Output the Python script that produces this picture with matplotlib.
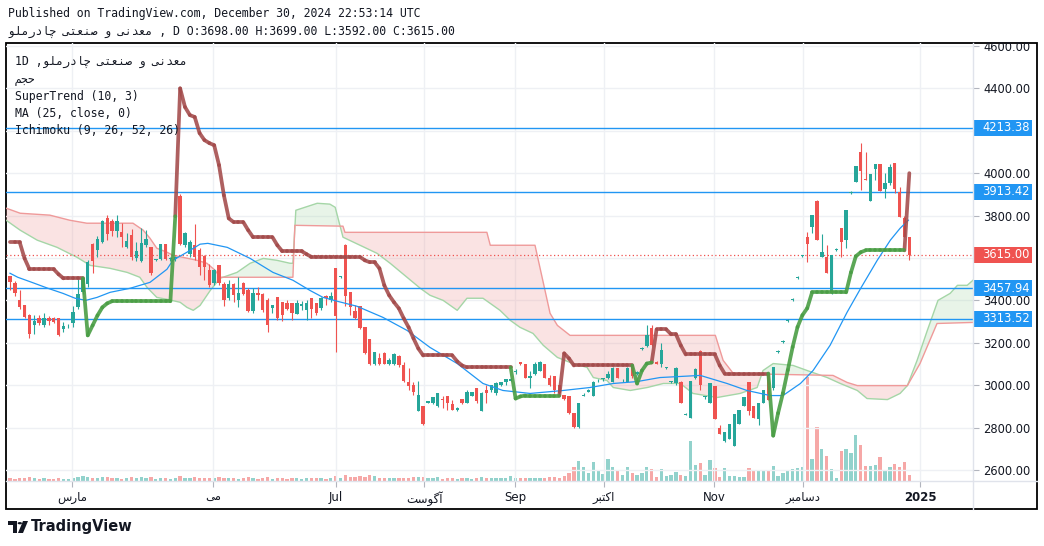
import numpy as np
import matplotlib
matplotlib.use("Agg")
import matplotlib.pyplot as plt
from matplotlib.collections import LineCollection
from matplotlib.patches import Rectangle, Circle, Polygon
from matplotlib.lines import Line2D
from matplotlib import transforms

# daily bars (Feb .. Dec 30 2024)
opens = [3513, 3480, 3400, 3376, 3329, 3282, 3315, 3282, 3315, 3315,
         3315, 3263, 3282, 3291, 3367, 3438, 3476, 3665, 3636, 3674,
         3787, 3773, 3726, 3721, 3650, 3707, 3599, 3585, 3660, 3650,
         3590, 3594, 3665, 3594, 3594, 3891, 3660, 3617, 3660, 3636,
         3608, 3542, 3480, 3566, 3476, 3410, 3476, 3400, 3480, 3447,
         3348, 3433, 3428, 3400, 3362, 3414, 3391, 3386, 3386, 3334,
         3372, 3353, 3410, 3386, 3362, 3419, 3400, 3551, 3509, 3660,
         3438, 3348, 3372, 3273, 3216, 3098, 3126, 3150, 3098, 3098,
         3136, 3093, 3013, 2999, 2880, 2904, 2918, 2914, 2900, 2937,
         2947, 2909, 2885, 2937, 2914, 2951, 2989, 2880, 2975, 2975,
         2961, 3003, 3013, 3022, 3060, 3107, 3102, 3032, 3055, 3069,
         3102, 3036, 3041, 2999, 2956, 2947, 2871, 2805, 2951, 2970,
         2951, 3018, 3027, 3032, 3013, 3079, 3018, 3013, 3093, 3055,
         3169, 3183, 3268, 3107, 3102, 3079, 3013, 3008, 3013, 2861,
         2847, 3032, 3159, 2942, 2918, 2994, 2800, 2739, 2748, 2715,
         2819, 2904, 3013, 2904, 2842, 2918, 3055, 2989, 3155, 3202,
         3301, 3400, 3504, 3608, 3698, 3745, 3868, 3603, 3603, 3433,
         3636, 3740, 3684, 3906, 3958, 4099, 3972, 3868, 4019, 4043,
         3925, 3953, 4047, 3910, 3788, 3698]
highs = [3515, 3490, 3447, 3380, 3335, 3329, 3329, 3339, 3325, 3320,
         3318, 3296, 3290, 3372, 3499, 3508, 3590, 3670, 3702, 3778,
         3802, 3783, 3802, 3764, 3717, 3735, 3674, 3740, 3731, 3650,
         3597, 3665, 3665, 3603, 3610, 3901, 3721, 3684, 3759, 3646,
         3613, 3570, 3547, 3566, 3485, 3495, 3480, 3509, 3485, 3457,
         3457, 3462, 3433, 3410, 3376, 3414, 3391, 3400, 3386, 3400,
         3396, 3400, 3410, 3386, 3414, 3424, 3438, 3551, 3513, 3665,
         3438, 3377, 3372, 3273, 3216, 3155, 3150, 3155, 3126, 3150,
         3140, 3107, 3079, 3013, 3018, 2904, 2925, 2942, 2961, 2947,
         2951, 2928, 2895, 2937, 2975, 2970, 2989, 2966, 2999, 3003,
         3013, 3013, 3027, 3032, 3074, 3107, 3102, 3065, 3107, 3112,
         3102, 3046, 3041, 2999, 2956, 2947, 2871, 2914, 2961, 2980,
         3022, 3027, 3036, 3065, 3088, 3083, 3027, 3088, 3093, 3065,
         3178, 3282, 3282, 3112, 3197, 3088, 3022, 3084, 3018, 2871,
         3022, 3079, 3164, 2951, 3008, 2994, 2814, 2777, 2819, 2862,
         2885, 2942, 3013, 2904, 2918, 2975, 3055, 3084, 3164, 3211,
         3310, 3410, 3513, 3613, 3721, 3802, 3873, 3712, 3660, 3613,
         3646, 3740, 3825, 3915, 4033, 4142, 4099, 3995, 4043, 4043,
         4000, 4043, 4047, 3934, 3797, 3699]
lows = [3447, 3420, 3358, 3315, 3221, 3240, 3282, 3273, 3282, 3292,
        3230, 3249, 3270, 3273, 3358, 3428, 3462, 3528, 3603, 3670,
        3684, 3702, 3698, 3650, 3646, 3589, 3585, 3580, 3650, 3518,
        3585, 3589, 3589, 3585, 3585, 3660, 3650, 3603, 3590, 3518,
        3495, 3462, 3471, 3471, 3372, 3400, 3390, 3367, 3424, 3343,
        3339, 3400, 3343, 3249, 3339, 3306, 3301, 3353, 3306, 3334,
        3353, 3306, 3315, 3329, 3353, 3376, 3391, 3155, 3504, 3372,
        3329, 3310, 3263, 3145, 3097, 3093, 3093, 3098, 3093, 3093,
        3088, 3013, 2975, 2956, 2876, 2810, 2914, 2910, 2895, 2890,
        2885, 2885, 2880, 2909, 2914, 2951, 2918, 2876, 2914, 2970,
        2956, 2994, 3003, 3018, 3055, 3093, 3032, 2985, 3050, 3065,
        3032, 2994, 2961, 2956, 2928, 2866, 2800, 2800, 2947, 2966,
        2947, 3013, 3022, 3027, 3013, 3032, 3013, 3013, 3036, 3050,
        3164, 3178, 3183, 3098, 3084, 3074, 3008, 3003, 2914, 2857,
        2847, 3027, 2975, 2937, 2918, 2842, 2772, 2734, 2748, 2715,
        2819, 2900, 2857, 2847, 2810, 2918, 2928, 2975, 3150, 3197,
        3296, 3396, 3499, 3603, 3580, 3717, 3684, 3603, 3528, 3428,
        3632, 3603, 3646, 3901, 3958, 3920, 3967, 3868, 3967, 3915,
        3882, 3943, 3906, 3792, 3698, 3592]
closes = [3485, 3433, 3367, 3320, 3240, 3301, 3292, 3315, 3301, 3296,
          3235, 3277, 3286, 3343, 3428, 3504, 3580, 3585, 3688, 3773,
          3712, 3726, 3773, 3698, 3679, 3604, 3632, 3670, 3688, 3528,
          3594, 3665, 3594, 3599, 3603, 3665, 3717, 3674, 3603, 3556,
          3556, 3471, 3542, 3480, 3400, 3476, 3424, 3433, 3428, 3348,
          3433, 3424, 3353, 3282, 3376, 3315, 3329, 3358, 3339, 3386,
          3381, 3386, 3358, 3339, 3410, 3410, 3419, 3325, 3513, 3419,
          3367, 3315, 3268, 3150, 3102, 3155, 3102, 3102, 3121, 3145,
          3093, 3022, 2994, 2970, 2956, 2819, 2923, 2942, 2961, 2928,
          2918, 2885, 2890, 2914, 2970, 2966, 2923, 2961, 2961, 3003,
          3008, 3013, 3027, 3027, 3069, 3098, 3036, 3041, 3102, 3107,
          3036, 2999, 2975, 2961, 2933, 2871, 2805, 2914, 2956, 2975,
          3013, 3022, 3032, 3055, 3079, 3036, 3022, 3083, 3041, 3060,
          3174, 3235, 3188, 3102, 3164, 3084, 3018, 3079, 2914, 2866,
          3022, 3074, 2999, 2947, 3008, 2842, 2772, 2777, 2819, 2862,
          2885, 2942, 2880, 2847, 2918, 2975, 2928, 3084, 3159, 3207,
          3306, 3405, 3509, 3612, 3665, 3802, 3684, 3627, 3528, 3613,
          3641, 3674, 3825, 3910, 4033, 4010, 3967, 3995, 4043, 3915,
          3953, 4028, 3925, 3792, 3698, 3615]
volumes = [3, 2, 3, 3, 4, 3, 2, 3, 2, 2, 3, 2, 2, 3, 4, 5, 4, 3, 3, 4,
           4, 3, 3, 2, 3, 4, 3, 4, 3, 4, 2, 3, 3, 2, 3, 5, 3, 3, 4, 3,
           3, 3, 3, 4, 3, 3, 3, 2, 3, 4, 3, 2, 3, 4, 2, 3, 3, 2, 3, 3,
           2, 3, 3, 3, 3, 2, 3, 5, 3, 6, 4, 4, 5, 4, 6, 5, 3, 3, 3, 3,
           3, 3, 3, 4, 4, 4, 3, 3, 4, 2, 3, 3, 2, 3, 3, 2, 3, 4, 3, 3,
           3, 3, 3, 5, 3, 3, 3, 3, 3, 3, 3, 4, 4, 3, 5, 8, 14, 20, 14, 8,
           19, 10, 7, 22, 14, 10, 6, 14, 8, 6, 8, 14, 12, 4, 12, 5, 6, 9, 6, 5,
           40, 16, 18, 6, 21, 13, 4, 13, 5, 5, 4, 4, 13, 10, 10, 11, 11, 15, 5, 8,
           11, 12, 13, 14, 104, 22, 54, 32, 25, 12, 3, 30, 32, 28, 46, 36, 15, 15, 16, 24,
           11, 14, 17, 14, 19, 6]

# SuperTrend (10, 3) per bar, and the bar ranges where it is in uptrend
supertrend = [3674, 3674, 3674, 3598, 3547, 3547, 3547, 3547, 3547, 3547,
              3523, 3504, 3504, 3504, 3504, 3504, 3235, 3282, 3329, 3367,
              3386, 3396, 3396, 3396, 3396, 3396, 3396, 3396, 3396, 3396,
              3396, 3396, 3396, 3396, 3797, 4400, 4312, 4274, 4265, 4189,
              4156, 4142, 4132, 4038, 3896, 3787, 3769, 3769, 3769, 3731,
              3698, 3698, 3698, 3698, 3698, 3660, 3632, 3632, 3632, 3632,
              3632, 3618, 3605, 3605, 3605, 3605, 3605, 3605, 3605, 3605,
              3605, 3605, 3605, 3589, 3580, 3580, 3551, 3471, 3424, 3391,
              3362, 3315, 3273, 3221, 3173, 3140, 3140, 3140, 3140, 3140,
              3140, 3140, 3112, 3093, 3084, 3084, 3084, 3084, 3084, 3084,
              3084, 3084, 3084, 3084, 2937, 2947, 2951, 2951, 2951, 2951,
              2951, 2951, 2951, 2951, 3150, 3126, 3093, 3093, 3093, 3093,
              3093, 3093, 3093, 3093, 3093, 3093, 3093, 3093, 3093, 3008,
              3069, 3102, 3107, 3263, 3263, 3263, 3240, 3240, 3187, 3145,
              3145, 3145, 3145, 3145, 3145, 3145, 3093, 3055, 3055, 3055,
              3055, 3055, 3055, 3055, 3055, 3055, 3055, 2762, 2868, 2962,
              3071, 3180, 3274, 3330, 3363, 3438, 3438, 3438, 3438, 3438,
              3438, 3438, 3438, 3532, 3608, 3627, 3636, 3636, 3636, 3636,
              3636, 3636, 3636, 3636, 3636, 4000]
uptrend_runs = [(16, 34), (104, 113), (129, 132), (157, 184)]

# MA (25, close) traced as (bar, value)
ma_bar = [0, 1.6, 4.5, 7.8, 10.9, 13.4, 15.6, 17.9, 20.6, 24.7, 28.8, 32.3, 33.5,
          36.4, 39.1, 40.7, 44.7, 49.4, 54.1, 58.2, 61.7, 64.4, 67.3, 71.4, 76.7,
          81.7, 86.4, 92, 97.3, 101.4, 107, 113.8, 119.3, 124.1, 129, 133.7, 142,
          147.5, 151.6, 156.4, 159, 162.6, 165.2, 168.7, 172.2, 175, 178.4, 181.1,
          183.1, 184.8]
ma_val = [3528, 3509, 3485, 3457, 3433, 3410, 3400, 3414, 3438, 3457, 3485, 3547, 3589,
          3627, 3665, 3669, 3650, 3598, 3532, 3495, 3447, 3414, 3396, 3372, 3320,
          3258, 3178, 3102, 3008, 2975, 2961, 2975, 2989, 3008, 3017, 3036, 3046,
          3008, 2975, 2951, 2951, 3008, 3069, 3188, 3344, 3457, 3589, 3684,
          3740, 3778]

# Ichimoku cloud spans (shifted 26 bars ahead)
spanA_bar = [-0.8, 2.1, 5.6, 9.7, 13.8, 16.5, 20.6, 24.1, 26.7, 28.2, 30.2, 32.3, 35.0,
             36.4, 37.7, 39.1, 41.2, 43.2, 46.7, 49.4, 52.1, 54.9, 57.6, 58.2, 58.8,
             63.2, 65.8, 66.9, 68.5, 75.5, 78.2, 84.4, 86.4, 89.1, 92.0, 94.0, 97.3,
             100.8, 102.9, 104.9, 107.6, 109.7, 112.6, 115.8, 118.7, 120.0, 122.8,
             124.1, 127.6, 131.1, 134.4, 137.9, 140.5, 145.5, 150.2, 153.7, 154.9,
             157.0, 161.1, 164.0, 168.1, 170.8, 174.3, 176.3, 180.5, 183.1, 184.6,
             186.6, 188.7, 190.9, 193.4, 194.9, 196.9, 198.1]
spanA_val = [3778, 3731, 3684, 3650, 3603, 3565, 3551, 3532, 3509, 3461, 3414, 3405, 3391,
             3367, 3353, 3376, 3447, 3504, 3532, 3575, 3598, 3589, 3575, 3575, 3825,
             3858, 3854, 3839, 3698, 3622, 3575, 3457, 3424, 3400, 3353, 3410, 3410,
             3353, 3306, 3273, 3244, 3188, 3131, 3102, 3084, 3036, 3022,
             2989, 2975, 2989, 3008, 3008, 2961, 2942, 2961, 2989, 3069,
             3102, 3093, 3069, 3036, 3008, 2975, 2937, 2932, 2961, 2998,
             3117, 3258, 3400, 3433, 3471, 3471, 3495]
spanB_bar = [-0.8, 2.1, 8.2, 12.3, 15.8, 25.3, 27.4, 28.8, 30.2, 32.3, 33.5, 38.5,
             40.5, 42.2, 43.2, 58.2, 58.6, 68.5, 68.9, 98.1, 98.8, 108.0, 111.1,
             112.6, 115.2, 145.1, 146.7, 148.8, 169.3, 172.2, 174.3, 184.6, 187.2,
             190.7, 198.1]
spanB_val = [3835, 3811, 3802, 3778, 3764, 3764, 3731, 3693, 3646, 3627, 3613, 3589,
             3575, 3542, 3509, 3509, 3754, 3750, 3721, 3721, 3660, 3660, 3339,
             3282, 3235, 3235, 3117, 3055, 3046, 3013, 2998, 2998, 3102,
             3291, 3296]

month_bar = [12.8, 41.8, 67.1, 85.2, 103.9, 122.2, 144.9, 163.2, 187.3]
month_name = ["مارس", "می", "Jul", "\u0622گوست", "Sep", "اکتبر", "Nov", "دسامبر", "2025"]

levels = [4213.38, 3913.42, 3457.94, 3313.52]
last_close = 3615.00
company = "معدنی و صنعتی چادرملو"
vol_title = "حجم"

UP = "#26a69a"
DOWN = "#ef5350"
TXT = "#131722"

# arabic presentation forms: isolated, final, initial, medial
FORMS = {
    '\u0627': ('\ufe8d', '\ufe8e', None, None),
    '\u0622': ('\ufe81', '\ufe82', None, None),
    '\u0628': ('\ufe8f', '\ufe90', '\ufe91', '\ufe92'),
    '\u062a': ('\ufe95', '\ufe96', '\ufe97', '\ufe98'),
    '\u062c': ('\ufe9d', '\ufe9e', '\ufe9f', '\ufea0'),
    '\u062d': ('\ufea1', '\ufea2', '\ufea3', '\ufea4'),
    '\u062f': ('\ufea9', '\ufeaa', None, None),
    '\u0631': ('\ufead', '\ufeae', None, None),
    '\u0633': ('\ufeb1', '\ufeb2', '\ufeb3', '\ufeb4'),
    '\u0635': ('\ufeb9', '\ufeba', '\ufebb', '\ufebc'),
    '\u0639': ('\ufec9', '\ufeca', '\ufecb', '\ufecc'),
    '\u0643': ('\ufed9', '\ufeda', '\ufedb', '\ufedc'),
    '\u0644': ('\ufedd', '\ufede', '\ufedf', '\ufee0'),
    '\u0645': ('\ufee1', '\ufee2', '\ufee3', '\ufee4'),
    '\u0646': ('\ufee5', '\ufee6', '\ufee7', '\ufee8'),
    '\u0648': ('\ufeed', '\ufeee', None, None),
    '\u064a': ('\ufef1', '\ufef2', '\ufef3', '\ufef4'),
    '\u06cc': ('\ufbfc', '\ufbfd', '\ufbfe', '\ufbff'),
    '\u0686': ('\ufb7a', '\ufb7b', '\ufb7c', '\ufb7d'),
    '\u06a9': ('\ufb8e', '\ufb8f', '\ufb90', '\ufb91'),
    '\u06af': ('\ufb92', '\ufb93', '\ufb94', '\ufb95'),
}


def shape(s):
    # matplotlib has no bidi / joining, so do it by hand (only for persian text)
    if not any(ch in FORMS for ch in s):
        return s
    out = []
    for i, ch in enumerate(s):
        if ch not in FORMS:
            out.append(ch)
            continue
        f = FORMS[ch]
        prev = s[i - 1] if i > 0 else ''
        nxt = s[i + 1] if i + 1 < len(s) else ''
        jp = prev in FORMS and FORMS[prev][2] is not None
        jn = nxt in FORMS and f[2] is not None
        if jp and jn:
            out.append(f[3])
        elif jp:
            out.append(f[1])
        elif jn:
            out.append(f[2])
        else:
            out.append(f[0])
    return ''.join(out[::-1])


def px(x):
    return x / 1044.0


def py(y):
    return 1 - y / 546.0


def main():
    fig = plt.figure(figsize=(10.44, 5.46), dpi=100)
    fig.patch.set_facecolor("white")
    ax = fig.add_axes([px(6), py(481), px(973) - px(6), py(43) - py(481)])
    vax = ax.twinx()
    ax.set_zorder(vax.get_zorder() + 1)
    ax.patch.set_visible(False)

    o = np.array(opens, float)
    h = np.array(highs, float)
    l = np.array(lows, float)
    c = np.array(closes, float)
    x = np.arange(len(o))
    up = c >= o
    cols = np.where(up, UP, DOWN)

    # volume overlay
    vcols = [(0.149, 0.651, 0.604, 0.5) if u else (0.937, 0.325, 0.314, 0.5) for u in up]
    vax.bar(x, volumes, width=0.68, color=vcols, linewidth=0)
    vax.set_ylim(0, 438)
    vax.set_yticks([])
    for s in vax.spines.values():
        s.set_visible(False)

    # ichimoku cloud
    grid = np.linspace(-0.8, 198.1, 3000)
    a = np.interp(grid, spanA_bar, spanA_val)
    b = np.interp(grid, spanB_bar, spanB_val)
    ax.fill_between(grid, a, b, where=a >= b, interpolate=True, color="#a5d6a7", alpha=0.25, lw=0, zorder=1)
    ax.fill_between(grid, a, b, where=a < b, interpolate=True, color="#ef9a9a", alpha=0.27, lw=0, zorder=1)
    ax.plot(spanA_bar, spanA_val, color="#a5d6a7", lw=1, zorder=1.5)
    ax.plot(spanB_bar, spanB_val, color="#ef9a9a", lw=1, zorder=1.5)

    # levels
    for v in levels:
        ax.axhline(v, color="#2196f3", lw=1, zorder=2)
    ax.axhline(last_close, color=DOWN, lw=0.9, ls=(0, (1, 2)), zorder=2)

    # candles
    ax.vlines(x, l, h, colors=cols, lw=0.8, zorder=3)
    lo = np.minimum(o, c)
    hh = np.maximum(np.abs(c - o), 4)
    ax.bar(x, hh, bottom=lo, width=0.7, color=cols, linewidth=0, zorder=3.1)

    # MA
    ax.plot(ma_bar, ma_val, color="#2196f3", lw=0.9, zorder=4)

    # supertrend
    is_up = np.zeros(len(x), bool)
    for s, e in uptrend_runs:
        is_up[s:e + 1] = True
    seg_up, seg_dn = [], []
    for i in range(1, len(x)):
        seg = [(i - 1, supertrend[i - 1]), (i, supertrend[i])]
        (seg_up if is_up[i] else seg_dn).append(seg)
    ax.add_collection(LineCollection(seg_dn, colors="#a34a4a", linewidths=2.7, alpha=0.88,
                                     capstyle="round", zorder=5))
    ax.add_collection(LineCollection(seg_up, colors="#4a9e45", linewidths=2.7, alpha=0.9,
                                     capstyle="round", zorder=5))

    ax.set_xlim(-0.82, 198.1)
    ax.set_ylim(2548, 4614)

    # axes, ticks, grid (4200 and 3600 sit under the level boxes, so no label)
    for s in ax.spines.values():
        s.set_visible(False)
    ax.yaxis.tick_right()
    yt = np.arange(2600, 4601, 200)
    ax.set_yticks(yt)
    ax.set_yticklabels(["" if t in (4200, 3600) else "%.2f" % t for t in yt])
    ax.tick_params(axis="y", length=4, color="#b2b5be", pad=3.6, labelsize=8.3, labelcolor=TXT)
    ax.set_xticks(month_bar)
    ax.set_xticklabels([shape(m) for m in month_name])
    ax.tick_params(axis="x", length=4, color="#b2b5be", pad=3, labelsize=8.5, labelcolor=TXT)
    ax.get_xticklabels()[-1].set_fontweight("bold")
    ax.grid(True, color="#eef0f4", lw=1)
    ax.set_axisbelow(True)

    # price labels on the axis
    blend = transforms.blended_transform_factory(ax.transAxes, ax.transData)
    aw = 967.0
    for v, col in [(lv, "#2196f3") for lv in levels] + [(last_close, DOWN)]:
        ax.add_patch(Rectangle((1.0, v - 37.7), 59 / aw, 75.5, transform=blend, clip_on=False,
                               fc=col, ec="none", zorder=6))
        ax.text(1.0 + 9 / aw, v, "%.2f" % v, transform=blend, clip_on=False, color="white",
                fontsize=8.3, ha="left", va="center", zorder=7)

    # frame + separators
    fig.add_artist(Line2D([px(973), px(973)], [py(509), py(43)], color="#e0e3eb", lw=1))
    fig.add_artist(Line2D([px(6), px(1037)], [py(481), py(481)], color="#e0e3eb", lw=1))
    fig.add_artist(Rectangle((px(6), py(509)), px(1037) - px(6), py(43) - py(509),
                             transform=fig.transFigure, fill=False, ec="black", lw=1.3))

    mono = ["DejaVu Sans Mono", "DejaVu Sans"]
    fig.text(px(8), py(14), "Published on TradingView.com, December 30, 2024 22:53:14 UTC",
             family=mono, fontsize=8.3, color=TXT, va="center")
    fig.text(px(8), py(31), shape(company) + " , D O:3698.00 H:3699.00 L:3592.00 C:3615.00",
             family=mono, fontsize=8.3, color=TXT, va="center")
    legend = ["1D ," + shape(company), shape(vol_title), "SuperTrend (10, 3)",
              "MA (25, close, 0)", "Ichimoku (9, 26, 52, 26)"]
    for k, t in enumerate(legend):
        fig.text(px(15), py(62 + 17.2 * k), t, family=mono, fontsize=8.3, color=TXT, va="center")

    # TradingView logo
    dark = "#131722"
    fig.add_artist(Rectangle((px(8), py(525)), px(9), py(521) - py(525), transform=fig.transFigure,
                             fc=dark, ec="none"))
    fig.add_artist(Rectangle((px(12.5), py(533)), px(4), py(521) - py(533), transform=fig.transFigure,
                             fc=dark, ec="none"))
    fig.add_artist(Circle((px(19.8), py(523.2)), px(2.2), transform=fig.transFigure, fc=dark, ec="none"))
    fig.add_artist(Polygon([(px(23), py(521)), (px(28), py(521)), (px(23), py(533)), (px(18), py(533))],
                           closed=True, transform=fig.transFigure, fc=dark, ec="none"))
    fig.text(px(31), py(527), "TradingView", fontsize=10.5, fontweight="bold", color=dark,
             va="center", family="DejaVu Sans")

    fig.savefig("out.png", dpi=100)


if __name__ == '__main__':
    main()
